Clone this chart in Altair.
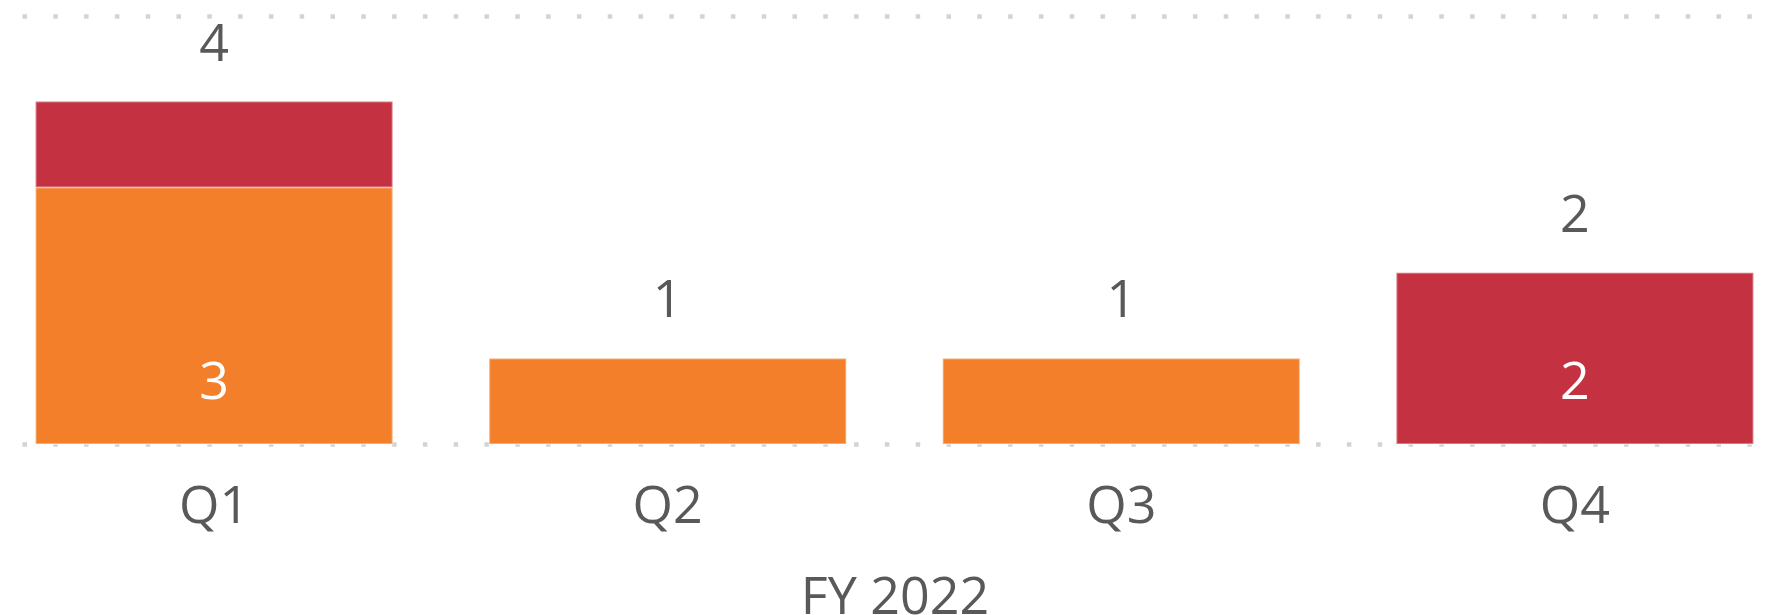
import altair as alt
import pandas as pd

quarters = ["Q1", "Q2", "Q3", "Q4"]
series_names = ["Series 1", "Series 2"]
series_1 = [3, 1, 1, 0]
series_2 = [1, 0, 0, 2]
inner_labels = ["3", "", "", "2"]
colors = ["#F47F2A", "#C43242"]

rows = []
for i, q in enumerate(quarters):
    for k, (name, vals) in enumerate(zip(series_names, [series_1, series_2])):
        if vals[i] > 0:
            rows.append({"quarter": q, "series": name, "value": vals[i], "order": k})
bars_df = pd.DataFrame(rows)

totals_df = pd.DataFrame({
    "quarter": quarters,
    "total": [a + b for a, b in zip(series_1, series_2)],
})
inner_df = pd.DataFrame({
    "quarter": quarters,
    "label": inner_labels,
    "base": [0] * len(quarters),
})
inner_df = inner_df[inner_df["label"] != ""]

FONT = "Open Sans"
TXT = "#595959"
FS = 52

x_enc = alt.X(
    "quarter:N",
    sort=quarters,
    scale=alt.Scale(paddingInner=0.213, paddingOuter=0.03),
    axis=alt.Axis(
        title="FY 2022", labelAngle=0, domain=False, ticks=False, tickSize=0,
        labelFont=FONT, labelFontSize=FS, labelColor=TXT, labelPadding=37,
        titleFont=FONT, titleFontSize=FS, titleColor=TXT, titleFontWeight="normal",
        titlePadding=40, grid=False,
    ),
)
y_scale = alt.Scale(domain=[0, 5], nice=False, zero=True)

bars = alt.Chart(bars_df).mark_bar(
    stroke="white", strokeOpacity=0.35, strokeWidth=2
).encode(
    x=x_enc,
    y=alt.Y(
        "value:Q", stack="zero", scale=y_scale,
        axis=alt.Axis(
            title=None, values=[0, 5], labels=False, ticks=False, domain=False,
            grid=True, gridColor="#D3D3D3", gridWidth=4.5, gridDash=[4.5, 26.3],
        ),
    ),
    color=alt.Color("series:N", scale=alt.Scale(domain=series_names, range=colors), legend=None),
    order=alt.Order("order:Q"),
)

totals = alt.Chart(totals_df).mark_text(
    font=FONT, fontSize=FS, color=TXT, baseline="middle", dy=-57
).encode(
    x=alt.X("quarter:N", sort=quarters),
    y=alt.Y("total:Q", scale=y_scale),
    text=alt.Text("total:Q"),
)

inner = alt.Chart(inner_df).mark_text(
    font=FONT, fontSize=FS, color="white", baseline="middle", dy=-61
).encode(
    x=alt.X("quarter:N", sort=quarters),
    y=alt.Y("base:Q", scale=y_scale),
    text="label:N",
)

chart = alt.layer(bars, totals, inner).properties(
    width=1745, height=428,
    padding={"left": 22, "top": 16, "right": 18, "bottom": 171},
    autosize=alt.AutoSizeParams(type="none"),
).configure(background="white", view=alt.ViewConfig(stroke=None))

chart.save("out.html", embed_options={"renderer": "svg", "actions": False})
